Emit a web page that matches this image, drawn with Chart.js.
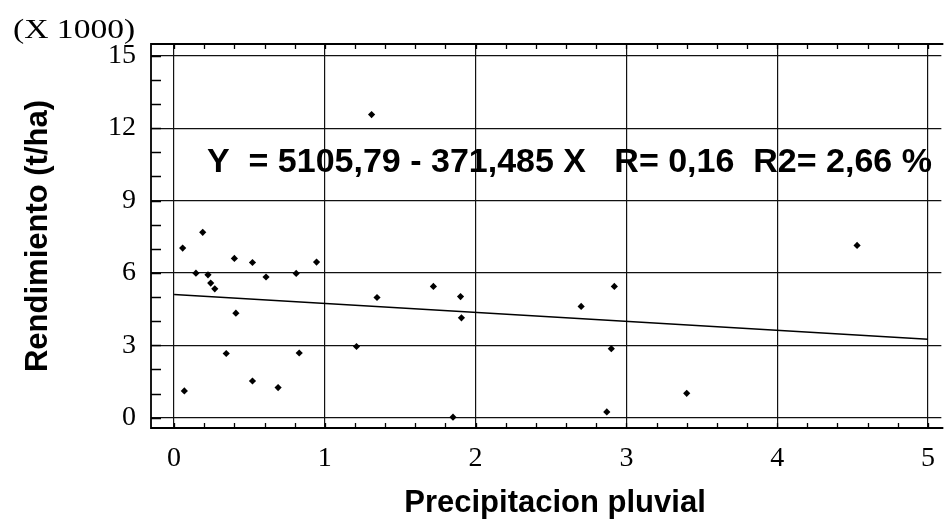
<!DOCTYPE html>
<html>
<head>
<meta charset="utf-8">
<script src="https://cdn.jsdelivr.net/npm/chart.js@4.4.1/dist/chart.umd.min.js"></script>
<style>
html,body{margin:0;padding:0;background:#fff;overflow:hidden}
#wrap{width:949px;height:519px;position:relative}
</style>
</head>
<body>
<div id="wrap"><canvas id="c" width="949" height="519"></canvas></div>
<script>
// ---- data ----
const precipitacion = [0.057, 0.068, 0.145, 0.19, 0.225, 0.243, 0.27, 0.346, 0.40, 0.41,
                       0.52, 0.52, 0.61, 0.69, 0.81, 0.83, 0.945, 1.21, 1.31, 1.346,
                       1.72, 1.85, 1.90, 1.906, 2.70, 2.87, 2.90, 2.92, 3.40, 4.53];
const rendimiento   = [7030, 1110, 5990, 7680, 5920, 5580, 5340, 2660, 6600, 4330,
                       6430, 1520, 5830, 1250, 5980, 2680, 6450, 2950, 12560, 4980,
                       5440, 20, 5020, 4140, 4610, 240, 2860, 5440, 1010, 7140];
const regX = [0, 5];
const regY = [5105.79, 3248.37];
const xTickValues = [0, 1, 2, 3, 4, 5];
const yTickValues = [0, 3000, 6000, 9000, 12000, 15000];
const equationText = 'Y  = 5105,79 - 371,485 X   R= 0,16  R2= 2,66 %';
const multiplierText = '(X 1000)';
const xTitle = 'Precipitacion pluvial';
const yTitle = 'Rendimiento (t/ha)';

const SANS = '"Liberation Sans", Arial, sans-serif';
const SERIF = '"Liberation Serif", "Times New Roman", serif';

const framePlugin = {
  id: 'frame',
  afterDraw(chart) {
    const {ctx, chartArea: a, scales: {x, y}} = chart;
    ctx.save();
    ctx.strokeStyle = '#000';
    ctx.lineWidth = 1.8;
    ctx.beginPath();
    ctx.moveTo(a.right + 2, a.top); ctx.lineTo(a.left, a.top);
    ctx.lineTo(a.left, a.bottom); ctx.lineTo(a.right + 2, a.bottom);
    ctx.stroke();
    ctx.lineWidth = 1.3;
    ctx.beginPath();
    for (let v = 0; v <= 15000; v += 1000) {
      const py = Math.round(y.getPixelForValue(v)) + 0.5;
      ctx.moveTo(a.left, py); ctx.lineTo(a.left + 10, py);
    }
    for (let i = 0; i <= 25; i++) {
      const px = Math.round(x.getPixelForValue(i * 0.2)) + 0.5;
      ctx.moveTo(px, a.bottom); ctx.lineTo(px, a.bottom - 5);
      ctx.moveTo(px, a.top); ctx.lineTo(px, a.top + 5);
    }
    ctx.stroke();
    // equation text
    ctx.fillStyle = '#000';
    ctx.font = 'bold 34px ' + SANS;
    ctx.textBaseline = 'alphabetic';
    ctx.textAlign = 'left';
    ctx.fillText(equationText, 207, 172);
    // x-axis title (centred as in the reference)
    ctx.font = 'bold 31px ' + SANS;
    ctx.textAlign = 'center';
    ctx.fillText(xTitle, 555, 512);
    // multiplier
    ctx.textAlign = 'left';
    ctx.font = '28px ' + SERIF;
    ctx.translate(13, 38);
    ctx.scale(1.2, 1);
    ctx.fillText(multiplierText, 0, 0);
    ctx.restore();
  }
};

new Chart(document.getElementById('c'), {
  type: 'scatter',
  data: {
    datasets: [
      {
        label: 'Observaciones',
        data: precipitacion.map((v, i) => ({x: v, y: rendimiento[i]})),
        pointStyle: 'rectRot',
        pointRadius: 3.6,
        backgroundColor: '#000',
        borderColor: '#000',
        borderWidth: 0,
        showLine: false
      },
      {
        label: 'Regresion',
        type: 'line',
        data: regX.map((v, i) => ({x: v, y: regY[i]})),
        borderColor: '#000',
        borderWidth: 1.5,
        pointRadius: 0,
        fill: false,
        showLine: true
      }
    ]
  },
  options: {
    responsive: false,
    devicePixelRatio: 1,
    animation: false,
    layout: {padding: {top: 44, right: 0, left: 0, bottom: 0}},
    plugins: {legend: {display: false}, tooltip: {enabled: false}},
    scales: {
      x: {
        type: 'linear',
        min: -0.153,
        max: 5.089,
        afterBuildTicks: s => { s.ticks = xTickValues.map(v => ({value: v})); },
        afterFit: s => { s.height = 91; },
        grid: {color: '#111', lineWidth: 1.2, drawTicks: false},
        border: {display: false},
        ticks: {color: '#000', font: {family: SERIF, size: 28}, padding: 14, maxRotation: 0,
                callback: v => String(v)},
        title: {display: false, text: xTitle}
      },
      y: {
        type: 'linear',
        min: -427,
        max: 15485,
        afterBuildTicks: s => { s.ticks = yTickValues.map(v => ({value: v})); },
        afterFit: s => { s.width = 151; },
        grid: {color: '#111', lineWidth: 1.2, drawTicks: false},
        border: {display: false},
        ticks: {color: '#000', font: {family: SERIF, size: 28}, padding: 15,
                callback: v => String(v / 1000)},
        title: {display: true, text: yTitle, color: '#000',
                font: {family: SANS, size: 31, weight: 'bold', lineHeight: 1.0},
                padding: {top: 23, bottom: 0}}
      }
    }
  },
  plugins: [framePlugin]
});
</script>
</body>
</html>
